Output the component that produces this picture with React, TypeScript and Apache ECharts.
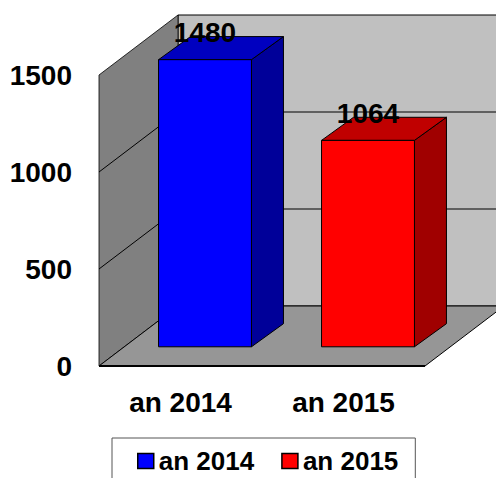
import React, { useEffect, useRef } from "react";
import * as echarts from "echarts";

const CATEGORIES = ["an 2014", "an 2015"];
const SERIES_NAMES = ["an 2014", "an 2015"];
const VALUES = [1480, 1064];
const Y_MIN = 0;
const Y_MAX = 1500;
const Y_INTERVAL = 500;

const FONT = "'Liberation Sans', Arial, sans-serif";
const DX = 79;
const DY = -60;

const FACE_COLORS = [
  { front: "#0000ff", top: "#0000c0", side: "#000099" },
  { front: "#ff0000", top: "#c00000", side: "#a00000" },
];

function renderWalls(_params: any, api: any) {
  const band = api.size([1, 0])[0];
  const c0 = api.coord([0, Y_MIN]);
  const left = c0[0] - band / 2;
  const right = left + band * CATEGORIES.length;
  const y0 = c0[1];
  const yTop = api.coord([0, Y_MAX])[1];
  const children: any[] = [];
  children.push({
    type: "polygon",
    shape: {
      points: [
        [left + DX, yTop + DY],
        [right + DX, yTop + DY],
        [right + DX, y0 + DY],
        [left + DX, y0 + DY],
      ],
    },
    style: { fill: "#c0c0c0", stroke: "#000", lineWidth: 1 },
  });
  children.push({
    type: "polygon",
    shape: {
      points: [
        [left, yTop],
        [left + DX, yTop + DY],
        [left + DX, y0 + DY],
        [left, y0],
      ],
    },
    style: { fill: "#808080", stroke: "#000", lineWidth: 0.8 },
  });
  children.push({
    type: "polygon",
    shape: {
      points: [
        [left, y0],
        [right, y0],
        [right + DX, y0 + DY],
        [left + DX, y0 + DY],
      ],
    },
    style: { fill: "#969696", stroke: "#000", lineWidth: 1 },
  });
  children.push({
    type: "line",
    shape: { x1: left, y1: y0, x2: right, y2: y0 },
    style: { stroke: "#000", lineWidth: 2 },
  });
  for (let v = Y_MIN + Y_INTERVAL; v < Y_MAX; v += Y_INTERVAL) {
    const y = api.coord([0, v])[1];
    children.push({
      type: "polyline",
      shape: {
        points: [
          [left, y],
          [left + DX, y + DY],
          [right + DX, y + DY],
        ],
      },
      style: { stroke: "#000", lineWidth: 1, fill: null },
    });
  }
  return { type: "group", children };
}

function makeBarRenderer(si: number) {
  return function renderBar(_params: any, api: any) {
    const xv = api.value(0);
    const val = api.value(1);
    const band = api.size([1, 0])[0];
    const base = api.coord([xv, Y_MIN]);
    const cx = base[0];
    const y0 = base[1];
    const yv = api.coord([xv, val])[1];
    const w = band * 0.57;
    const ox = DX * 0.31;
    const oy = DY * 0.32;
    const bx = DX * 0.405;
    const by = DY * 0.385;
    const fx1 = cx - w / 2 + ox;
    const fx2 = fx1 + w;
    const ft = yv + oy;
    const fb = y0 + oy;
    const c = FACE_COLORS[si];
    const edge = { stroke: "#000", lineWidth: 1 };
    return {
      type: "group",
      children: [
        {
          type: "polygon",
          shape: { points: [[fx2, ft], [fx2 + bx, ft + by], [fx2 + bx, fb + by], [fx2, fb]] },
          style: { fill: c.side, ...edge },
        },
        {
          type: "polygon",
          shape: { points: [[fx1, ft], [fx2, ft], [fx2 + bx, ft + by], [fx1 + bx, ft + by]] },
          style: { fill: c.top, ...edge },
        },
        {
          type: "rect",
          shape: { x: fx1, y: ft, width: w, height: fb - ft },
          style: { fill: c.front, ...edge },
        },
        {
          type: "text",
          z2: 10,
          style: {
            text: String(val),
            x: (fx1 + fx2) / 2,
            y: ft - 27,
            align: "center",
            verticalAlign: "middle",
            fontSize: 28,
            fontWeight: "bold",
            fontFamily: FONT,
            fill: "#000",
          },
        },
      ],
    };
  };
}

export default function App() {
  const ref = useRef<HTMLDivElement>(null);
  useEffect(() => {
    if (!ref.current) return;
    const chart = echarts.init(ref.current, undefined, { renderer: "svg" });
    const barSeries = SERIES_NAMES.map((name, i) => ({
      type: "custom",
      name,
      clip: false,
      z: 3,
      itemStyle: { color: FACE_COLORS[i].front },
      encode: { x: 0, y: 1 },
      data: [[i, VALUES[i]]],
      renderItem: makeBarRenderer(i),
    }));
    chart.setOption({
      animation: false,
      backgroundColor: "#fff",
      grid: { left: 99, top: 75, width: 326, height: 291 },
      xAxis: {
        type: "category",
        data: CATEGORIES,
        axisLine: { show: false },
        axisTick: { show: false },
        splitLine: { show: false },
        axisLabel: {
          margin: 22,
          color: "#000",
          fontSize: 28,
          fontWeight: "bold",
          fontFamily: FONT,
        },
      },
      yAxis: {
        type: "value",
        min: Y_MIN,
        max: Y_MAX,
        interval: Y_INTERVAL,
        axisLine: { show: false },
        axisTick: { show: false },
        splitLine: { show: false },
        axisLabel: {
          margin: 27,
          color: "#000",
          fontSize: 28,
          fontWeight: "bold",
          fontFamily: FONT,
          formatter: (v: number) => String(v),
        },
      },
      legend: {
        left: 112,
        top: 438,
        orient: "horizontal",
        padding: [10, 17, 20, 25],
        itemGap: 27,
        itemWidth: 16,
        itemHeight: 15,
        icon: "rect",
        borderColor: "#555",
        borderWidth: 1,
        textStyle: {
          color: "#000",
          fontSize: 26,
          fontWeight: "bold",
          fontFamily: FONT,
        },
        data: SERIES_NAMES.map((name, i) => ({
          name,
          itemStyle: { color: FACE_COLORS[i].front, borderColor: "#000", borderWidth: 1.5 },
        })),
      },
      series: [
        {
          type: "custom",
          name: "walls",
          clip: false,
          silent: true,
          z: 1,
          encode: { x: 0, y: 1 },
          data: [[0, 0]],
          renderItem: renderWalls,
        },
        ...barSeries,
      ],
    });
    return () => chart.dispose();
  }, []);
  return (
    <div
      ref={ref}
      style={{ position: "absolute", left: 0, top: 0, width: 496, height: 478, background: "#fff" }}
    />
  );
}
